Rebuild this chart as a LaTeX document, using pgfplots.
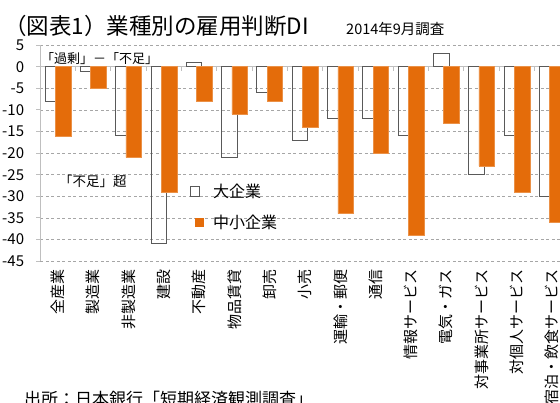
\documentclass[border=0pt]{standalone}
\usepackage{fontspec}
\setmainfont{Noto Sans CJK JP}
\usepackage{pgfplots}
\pgfplotsset{compat=1.18}
\definecolor{barorange}{HTML}{E46C0A}
\definecolor{axgray}{HTML}{BFBFBF}
\definecolor{gridgray}{HTML}{A6A6A6}
\definecolor{bargray}{HTML}{595959}
\newcommand{\fs}[1]{\fontsize{#1}{#1}\selectfont}

\begin{document}
\begin{tikzpicture}
\useasboundingbox (0,0) rectangle (560pt,-403pt);
\begin{axis}[
  at={(40.3pt,-261.1pt)}, anchor=south west,
  width=519.7pt, height=216pt, scale only axis,
  ybar, bar width=0.44,
  xmin=0.5, xmax=15.22, ymin=-45, ymax=5,
  axis lines*=left,
  x axis line style={draw=none},
  y axis line style={draw=axgray, line width=1.3pt},
  xtick={1,2,3,4,5,6,7,8,9,10,11,12,13,14,15},
  xticklabels={全産業,製造業,非製造業,建設,不動産,物品賃貸,卸売,小売,運輸・郵便,通信,情報サービス,電気・ガス,対事業所サービス,対個人サービス,宿泊・飲食サービス},
  xtick style={draw=none},
  xticklabel style={yshift=-4pt, rotate=90, anchor=east, inner sep=0pt, font=\fs{15}},
  ytick={-45,-40,-35,-30,-25,-20,-15,-10,-5,5},
  yticklabels={-45,-40,-35,-30,-25,-20,-15,-10,-5,5},
  extra y ticks={0}, extra y tick labels={0},
  extra y tick style={major grid style={solid, draw=axgray, line width=1.3pt}},
  ymajorgrids,
  major grid style={draw=gridgray, dash pattern=on 3pt off 2.5pt, line width=0.8pt},
  tick align=outside, major tick length=4pt,
  ytick style={draw=axgray, line width=1pt},
  yticklabel style={xshift=-12pt, font=\fs{15}, anchor=east, inner sep=0pt},
  legend cell align=left,
  legend style={at={(0.288,0.368)}, anchor=north west, draw=none, fill=none,
    inner sep=0pt, font=\fs{16}, row sep=12pt},
]
\addplot[draw=bargray, fill=none, line width=0.9pt, bar shift=-0.145,
  legend image code/.code={\draw[draw=bargray, line width=0.9pt] (0pt,-5pt) rectangle (9pt,5pt);
    \path (20pt,0pt);}]
  coordinates {(1,-8) (2,-1) (3,-16) (4,-41) (5,1) (6,-21) (7,-6) (8,-17)
    (9,-12) (10,-12) (11,-16) (12,3) (13,-25) (14,-16) (15,-30)};
\addlegendentry{大企業}
\addplot[draw=barorange!75!white, fill=barorange, line width=0.5pt, bar shift=0.145,
  legend image code/.code={\fill[barorange] (5pt,-4pt) rectangle (13pt,4pt);
    \path (0pt,0pt) (20pt,0pt);}]
  coordinates {(1,-16) (2,-5) (3,-21) (4,-29) (5,-8) (6,-11) (7,-8) (8,-14)
    (9,-34) (10,-20) (11,-39) (12,-13) (13,-23) (14,-29) (15,-36)};
\addlegendentry{中小企業}
\pgfplotsinvokeforeach{0.5,1.5,2.5,3.5,4.5,5.5,6.5,7.5,8.5,9.5,10.5,11.5,12.5,13.5,14.5}{
  \draw[axgray, line width=1pt] (axis cs:#1,0) -- ++(0pt,-4pt);}
\end{axis}
\node[anchor=base west, inner sep=0pt, font=\fs{22.5}] at (4pt,-35pt) {（図表1）業種別の雇用判断DI};
\node[anchor=base west, inner sep=0pt, font=\fs{14.5}] at (346pt,-35pt) {2014年9月調査};
\node[anchor=base west, inner sep=0pt, font=\fs{13}] at (41pt,-63.5pt) {「過剰」－「不足」};
\node[anchor=base west, inner sep=0pt, font=\fs{13.5}] at (59pt,-186.5pt) {「不足」超};
\node[anchor=base west, inner sep=0pt, font=\fs{17}] at (24pt,-406pt) {出所：日本銀行「短期経済観測調査」};
\end{tikzpicture}
\end{document}
